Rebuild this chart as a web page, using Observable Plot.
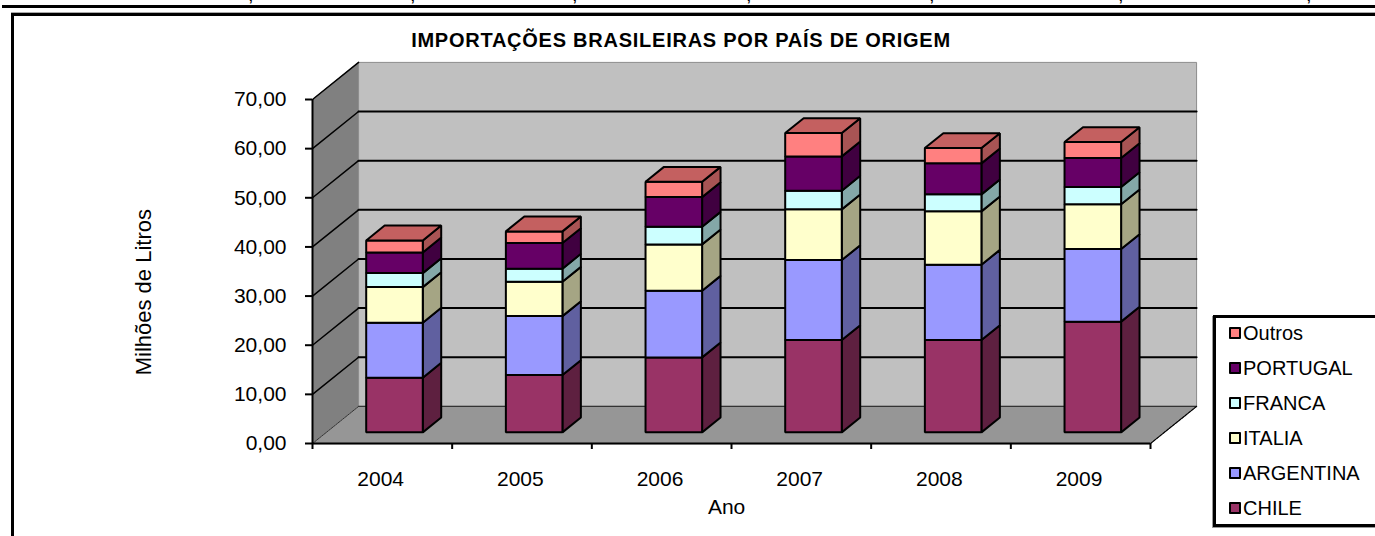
<!DOCTYPE html>
<html>
<head>
<meta charset="utf-8">
<script src="https://cdn.jsdelivr.net/npm/d3@7"></script>
<script src="https://cdn.jsdelivr.net/npm/@observablehq/plot@0.6"></script>
<style>
html,body{margin:0;padding:0;background:#fff;}
#page{position:relative;width:1375px;height:536px;overflow:hidden;font-family:"Liberation Sans",Arial,sans-serif;color:#000;}
#rule{position:absolute;left:2px;right:0;top:5px;height:3px;background:#000;}
#frame{position:absolute;left:11px;top:13px;width:1400px;height:600px;border:3px solid #000;box-shadow:0 -1px 0 #aaa;box-sizing:border-box;}
.tail{position:absolute;top:-16px;font-size:20px;line-height:20px;}
#title{position:absolute;left:360px;width:642px;top:28px;text-align:center;font-weight:bold;font-size:20px;line-height:24px;white-space:nowrap;letter-spacing:0.75px;}
#chart{position:absolute;left:0;top:0;}
#legend{position:absolute;left:1213px;top:315px;width:170px;height:212px;border:3px solid #000;box-sizing:border-box;background:#fff;box-shadow:-1px 1px 0 #999;}
.item{position:absolute;left:13px;height:35px;line-height:35px;font-size:20px;white-space:nowrap;}
.item i{display:inline-block;width:8px;height:8px;border:2px solid #000;border-radius:1px;margin-right:2px;vertical-align:0;position:relative;top:-1px;}
</style>
</head>
<body>
<div id="page">
  <div id="rule"></div>
  <div id="frame"></div>
  <div id="chart"></div>
  <div id="title">IMPORTAÇÕES BRASILEIRAS POR PAÍS DE ORIGEM</div>
  <div id="legend"></div>
</div>
<script>
const years = ["2004","2005","2006","2007","2008","2009"];
const seriesNames = ["CHILE","ARGENTINA","ITALIA","FRANCA","PORTUGAL","Outros"];
const chile     = [11.13,11.66,15.26,18.78,18.78,22.53];
const argentina = [11.19,12.00,13.57,16.28,15.34,14.77];
const italia    = [7.24,7.00,9.42,10.32,10.85,9.10];
const franca    = [2.85,2.65,3.60,3.80,3.46,3.52];
const portugal  = [4.21,5.21,6.02,6.98,6.31,5.90];
const outros    = [2.44,2.38,3.13,4.74,3.11,3.26];
const seriesValues = [chile,argentina,italia,franca,portugal,outros];
const frontColors = ["#993366","#9999FF","#FFFFCC","#CCFFFF","#660066","#FF8080"];
const sideColors  = ["#5E2040","#6060A0","#A5A584","#84A8A8","#400040","#A85454"];
const topColor = "#C46060";
const yTicks = [0,10,20,30,40,50,60,70];

// oblique projection, expressed in data units
const depthX = 0.33;   // categories per unit of depth
const depthY = 7.55;   // value units per unit of depth
const barWidth = 0.405, barNear = 0.3, barFar = 0.7;
const P = (c, v, d) => ({x: c + d*depthX, y: v + d*depthY});
const polys = [];
let id = 0;
const poly = (fill, pts) => { id++; for (const [c,v,d] of pts) polys.push({...P(c,v,d), z:id, fill}); };

const yTop = 70, nCat = years.length;
poly("#808080", [[0,0,0],[0,yTop,0],[0,yTop,1],[0,0,1]]);
poly("#C0C0C0", [[0,0,1],[0,yTop,1],[nCat,yTop,1],[nCat,0,1]]);
poly("#969696", [[0,0,0],[0,0,1],[nCat,0,1],[nCat,0,0]]);
const wallData = polys.slice(); polys.length = 0;

years.forEach((_, i) => {
  const c0 = i + 0.5 - barWidth/2 - 0.012, c1 = c0 + barWidth;
  let base = 0;
  seriesValues.forEach((vals, s) => {
    const b = base, t = base + vals[i];
    poly(sideColors[s],  [[c1,b,barNear],[c1,t,barNear],[c1,t,barFar],[c1,b,barFar]]);
    poly(frontColors[s], [[c0,b,barNear],[c0,t,barNear],[c1,t,barNear],[c1,b,barNear]]);
    base = t;
  });
  poly(topColor, [[c0,base,barNear],[c0,base,barFar],[c1,base,barFar],[c1,base,barNear]]);
});

const gridData = yTicks.filter(v => v>0 && v<70).flatMap(v => [
  {...P(0,v,1), z:"b"+v},
  {...P(nCat,v,1), z:"b"+v}
]);
const gridSide = yTicks.filter(v => v>0).flatMap(v => [
  {...P(0,v,0), z:"s"+v},
  {...P(0,v,1), z:"s"+v}
]);
const fmt = v => v.toFixed(2).replace(".",",");
const xline = d3.range(0, nCat+1);
const xCenters = years.map((_, i) => i + 0.5);

const plot = Plot.plot({
  width: 1375, height: 536,
  marginLeft: 312, marginRight: 225, marginTop: 99, marginBottom: 93,
  x: {domain: [0, nCat]},
  y: {domain: [0, yTop]},
  color: {type: "identity"},
  style: {background: "transparent", fontFamily: '"Liberation Sans", Arial, sans-serif', fontSize: "21px", color: "#000"},
  marks: [
    Plot.line(wallData, {x:"x", y:"y", z:"z", fill:"fill", stroke:"#8c8c8c", strokeWidth:1, curve:"linear-closed"}),
    Plot.line(gridData, {x:"x", y:"y", z:"z", stroke:"#000", strokeWidth:2}),
    Plot.line([P(0,0,1),P(nCat,0,1)], {x:"x", y:"y", stroke:"#333", strokeWidth:1.2}),
    Plot.line(gridSide, {x:"x", y:"y", z:"z", stroke:"#000", strokeWidth:1.5}),
    Plot.line([P(0,0,0),P(0,0,1)], {x:"x", y:"y", stroke:"#333", strokeWidth:1, strokeDasharray:"2 1"}),
    Plot.line([P(nCat,0,0),P(nCat,0,1)], {x:"x", y:"y", stroke:"#000", strokeWidth:1.2, strokeDasharray:"3 1"}),
    Plot.line(polys, {x:"x", y:"y", z:"z", fill:"fill", stroke:"#000", strokeWidth:2, strokeLinejoin:"miter", curve:"linear-closed"}),
    Plot.ruleX([0], {y1:0, y2:yTop, stroke:"#000", strokeWidth:2}),
    Plot.ruleY([0], {x1:0, x2:nCat, stroke:"#000", strokeWidth:2}),
    Plot.axisY({ticks: yTicks, tickFormat: fmt, tickSize: 7, tickPadding: 19, strokeWidth: 2, stroke:"#000", label: null, fontSize: 21, fill:"#000"}),
    Plot.axisX({ticks: xline, tickFormat: () => "", tickSize: 6, strokeWidth: 2, label: null}),
    Plot.text(xCenters, {x: d => d - 0.012, y: 0, text: (d,i) => years[i], dy: 36, fontSize: 21, fill:"#000"}),
    Plot.text(["Ano"], {x: nCat/2 - 0.035, y: 0, dy: 64, fontSize: 21, fill:"#000"}),
    Plot.text(["Milhões de Litros"], {x: 0, y: 30.8, dx: -169, rotate: -90, fontSize: 22, fill:"#000"})
  ]
});
document.getElementById("chart").append(plot);

const legend = document.getElementById("legend");
[...seriesNames].reverse().forEach((name, i) => {
  const el = document.createElement("div");
  el.className = "item";
  el.style.top = (i*35 - 2) + "px";
  const sw = document.createElement("i");
  sw.style.background = frontColors[seriesNames.length-1-i];
  el.append(sw, name);
  legend.append(el);
});

const page = document.getElementById("page");
[248,410,572,746,929,1118,1306].forEach(x => {
  const s = document.createElement("span");
  s.className = "tail"; s.style.left = x + "px"; s.textContent = ",";
  page.append(s);
});
</script>
</body>
</html>
